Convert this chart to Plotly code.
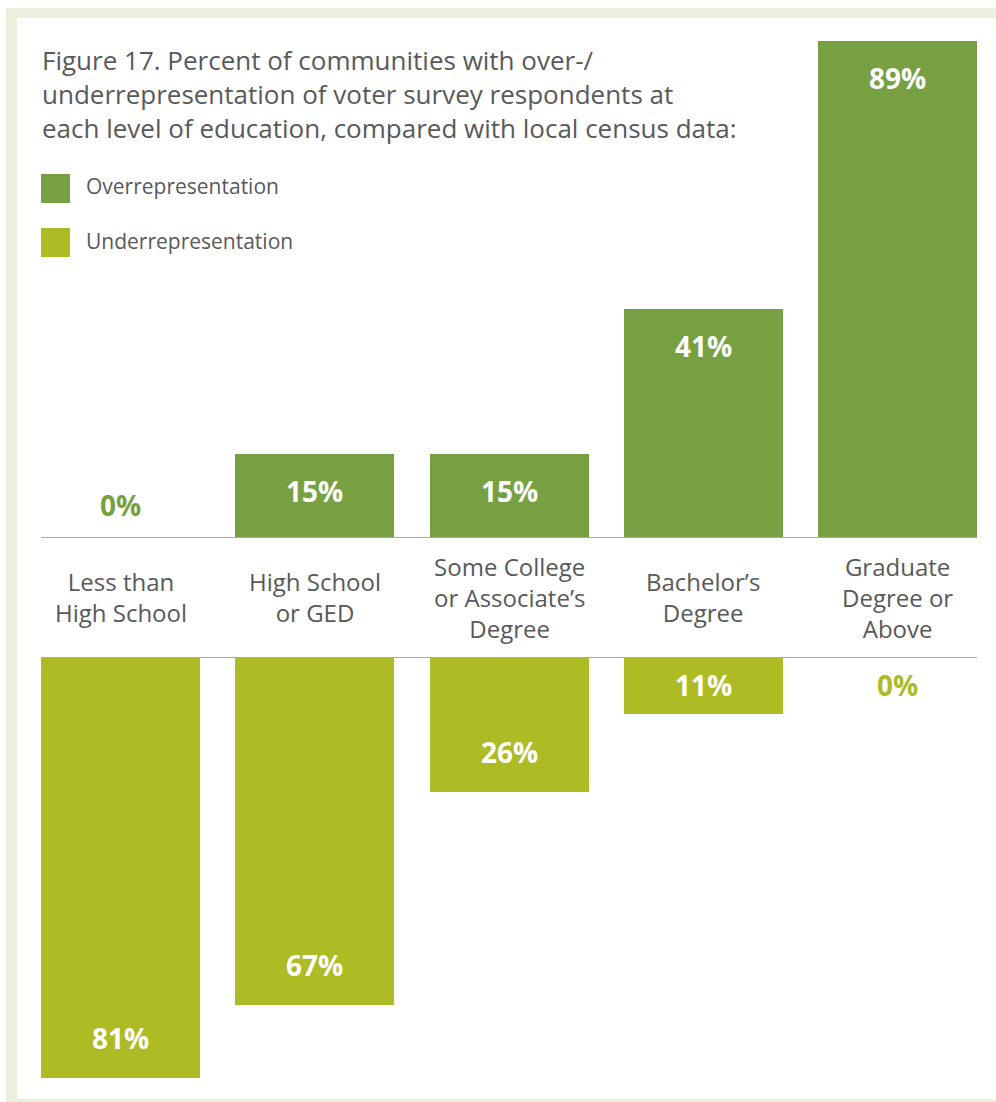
import plotly.graph_objects as go

# ---- data ----
categories = ["Less than<br>High School", "High School<br>or GED",
              "Some College<br>or Associate\u2019s<br>Degree",
              "Bachelor\u2019s<br>Degree", "Graduate<br>Degree or<br>Above"]
over_values = [0, 15, 15, 41, 89]
under_values = [81, 67, 26, 11, 0]
title_lines = ["Figure 17. Percent of communities with over-/",
               "underrepresentation of voter survey respondents at",
               "each level of education, compared with local census data:"]
legend_names = ["Overrepresentation", "Underrepresentation"]

# ---- style ----
W, H = 996, 1102
OVER_C = "#76a042"
UNDER_C = "#adbb24"
TEXT_C = "#58595b"
FONT = "Open Sans"
px_per_unit = 194.25
x0_px = 120.5
bar_w = 159 / px_per_unit
top_base_px, top_scale = 538, 5.585
bot_base_px, bot_scale = 657, 5.2

xr = [-x0_px / px_per_unit, -x0_px / px_per_unit + W / px_per_unit]
xs = list(range(len(categories)))

def fy(px):
    return 1 - px / H

fig = go.Figure()
fig.add_trace(go.Bar(x=xs, y=over_values, width=bar_w, marker_color=OVER_C,
                     marker_line_width=0, xaxis="x", yaxis="y", hoverinfo="skip"))
fig.add_trace(go.Bar(x=xs, y=under_values, width=bar_w, marker_color=UNDER_C,
                     marker_line_width=0, xaxis="x2", yaxis="y2", hoverinfo="skip"))

VAL_FONT = dict(family=FONT, size=28, weight="bold")
ann = []
# value labels, top
for x, v in zip(xs, over_values):
    off = v * top_scale - 37
    if off < 33:
        ann.append(dict(x=x, y=0, xref="x", yref="y", yshift=33, yanchor="middle",
                        text=f"{v}%", showarrow=False,
                        font=dict(VAL_FONT, color=OVER_C if v == 0 else "white")))
    else:
        ann.append(dict(x=x, y=v, xref="x", yref="y", yshift=-37, yanchor="middle",
                        text=f"{v}%", showarrow=False,
                        font=dict(VAL_FONT, color="white")))
# value labels, bottom
for x, v in zip(xs, under_values):
    off = v * bot_scale - 40
    if off < 28:
        ann.append(dict(x=x, y=0, xref="x2", yref="y2", yshift=-28, yanchor="middle",
                        text=f"{v}%", showarrow=False,
                        font=dict(VAL_FONT, color=UNDER_C if v == 0 else "white")))
    else:
        ann.append(dict(x=x, y=v, xref="x2", yref="y2", yshift=40, yanchor="middle",
                        text=f"{v}%", showarrow=False,
                        font=dict(VAL_FONT, color="white")))
# category labels
for x, c in zip(xs, categories):
    ann.append(dict(x=x, y=fy(597), xref="x", yref="paper", yanchor="middle",
                    text=c, showarrow=False, align="center",
                    font=dict(family=FONT, size=24, color=TEXT_C)))
# title (single multi-line text)
ann.append(dict(x=40 / W, y=fy(94), xref="paper", yref="paper",
                xanchor="left", yanchor="middle", align="left",
                text="<br>".join(title_lines), showarrow=False,
                font=dict(family=FONT, size=26, color=TEXT_C)))
# legend
shapes = [
    dict(type="rect", xref="paper", yref="paper", x0=6 / W, x1=1, y0=0, y1=fy(8),
         fillcolor="#ecefdb", line_width=0, layer="below"),
    dict(type="rect", xref="paper", yref="paper", x0=17 / W, x1=1, y0=fy(1099), y1=fy(18),
         fillcolor="white", line_width=0, layer="below"),
]
for i, (name, col) in enumerate(zip(legend_names, [OVER_C, UNDER_C])):
    yc = 188.5 + 54 * i
    shapes.append(dict(type="rect", xref="paper", yref="paper", x0=41 / W, x1=70 / W,
                       y0=fy(yc + 14.5), y1=fy(yc - 14.5), fillcolor=col, line_width=0))
    ann.append(dict(x=84 / W, y=fy(yc - 2), xref="paper", yref="paper", xanchor="left",
                    yanchor="middle", text=name, showarrow=False,
                    font=dict(family=FONT, size=21, color=TEXT_C)))
# baselines
for yref in ["y", "y2"]:
    shapes.append(dict(type="line", xref="x", yref=yref, x0=-bar_w / 2, x1=xs[-1] + bar_w / 2,
                       y0=0, y1=0, line=dict(color="#a7a9ac", width=2)))

fig.update_layout(
    width=W, height=H, margin=dict(l=0, r=0, t=0, b=0),
    paper_bgcolor="white", plot_bgcolor="rgba(0,0,0,0)",
    showlegend=False, bargap=0,
    xaxis=dict(range=xr, visible=False, domain=[0, 1], anchor="y"),
    xaxis2=dict(range=xr, visible=False, domain=[0, 1], anchor="y2", matches="x"),
    yaxis=dict(range=[0, top_base_px / top_scale], domain=[fy(top_base_px), 1], visible=False),
    yaxis2=dict(range=[(H - bot_base_px) / bot_scale, 0], domain=[0, fy(bot_base_px)], visible=False),
    annotations=ann, shapes=shapes,
)
fig.write_html("out.html")
